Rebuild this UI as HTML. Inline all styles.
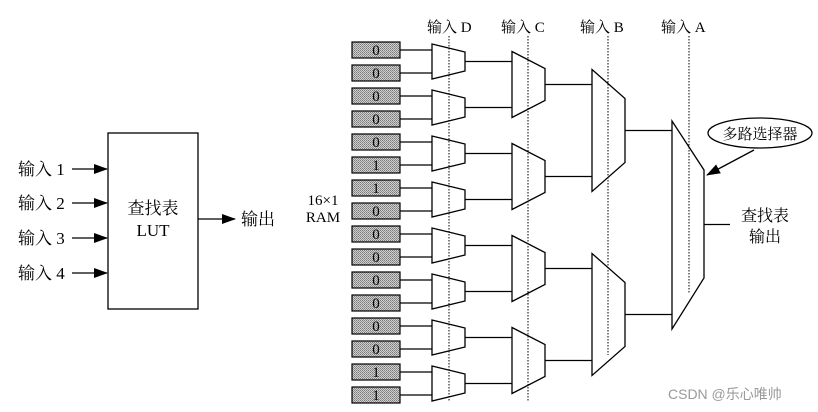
<!DOCTYPE html>
<html><head><meta charset="utf-8"><style>
html,body{margin:0;padding:0;background:#fff;}
svg{display:block;}
text{font-family:"Liberation Serif","Noto Serif CJK SC",serif;fill:#000;}
</style></head><body>
<svg width="818" height="412" viewBox="0 0 818 412" xmlns="http://www.w3.org/2000/svg">
<defs>
<pattern id="dots" width="2" height="2" patternUnits="userSpaceOnUse">
<rect width="2" height="2" fill="#d0d0d0"/><rect width="1" height="1" fill="#7a7a7a"/><rect x="1" y="1" width="1" height="1" fill="#909090"/>
</pattern>
<marker id="ah" markerWidth="14" markerHeight="10" refX="13" refY="5" orient="auto" markerUnits="userSpaceOnUse"><path d="M0,0 L14,5 L0,10 Z" fill="#000"/></marker>
</defs>
<g stroke="#000" stroke-width="1.3" fill="none">
<rect x="108" y="133" width="90" height="176" fill="#fff"/>
<line x1="72" y1="169" x2="107" y2="169" marker-end="url(#ah)"/>
<line x1="72" y1="203" x2="107" y2="203" marker-end="url(#ah)"/>
<line x1="72" y1="238" x2="107" y2="238" marker-end="url(#ah)"/>
<line x1="72" y1="273" x2="107" y2="273" marker-end="url(#ah)"/>
<line x1="198" y1="219" x2="235" y2="219" marker-end="url(#ah)"/>
</g>
<g font-size="17">
<text x="18" y="175">输入 1</text>
<text x="18" y="209">输入 2</text>
<text x="18" y="244">输入 3</text>
<text x="18" y="279">输入 4</text>
<text x="153" y="214" text-anchor="middle">查找表</text>
<text x="153" y="236" text-anchor="middle">LUT</text>
<text x="241" y="225">输出</text>
</g>
<g font-size="15">
<text x="323" y="205" text-anchor="middle">16×1</text>
<text x="323" y="222" text-anchor="middle">RAM</text>
</g>
<g stroke="#000" stroke-width="1" stroke-dasharray="1.5,1.5">
<line x1="449" y1="36" x2="449" y2="402"/>
<line x1="528" y1="36" x2="528" y2="402"/>
<line x1="608" y1="36" x2="608" y2="355"/>
<line x1="689" y1="36" x2="689" y2="293"/>
</g>
<g font-size="15">
<text x="427" y="32">输入 D</text>
<text x="501" y="32">输入 C</text>
<text x="580" y="32">输入 B</text>
<text x="661" y="32">输入 A</text>
</g>
<g stroke="#000" stroke-width="1.2" fill="url(#dots)">
<rect x="352" y="42" width="48" height="16"/><rect x="352" y="65" width="48" height="16"/>
<rect x="352" y="88" width="48" height="16"/><rect x="352" y="111" width="48" height="16"/>
<rect x="352" y="134" width="48" height="16"/><rect x="352" y="157" width="48" height="16"/>
<rect x="352" y="180" width="48" height="16"/><rect x="352" y="203" width="48" height="16"/>
<rect x="352" y="226" width="48" height="16"/><rect x="352" y="249" width="48" height="16"/>
<rect x="352" y="272" width="48" height="16"/><rect x="352" y="295" width="48" height="16"/>
<rect x="352" y="318" width="48" height="16"/><rect x="352" y="341" width="48" height="16"/>
<rect x="352" y="364" width="48" height="16"/><rect x="352" y="387" width="48" height="16"/>
</g>
<g font-size="15" text-anchor="middle">
<text x="376" y="55">0</text><text x="376" y="78">0</text><text x="376" y="101">0</text><text x="376" y="124">0</text>
<text x="376" y="147">0</text><text x="376" y="170">1</text><text x="376" y="193">1</text><text x="376" y="216">0</text>
<text x="376" y="239">0</text><text x="376" y="262">0</text><text x="376" y="285">0</text><text x="376" y="308">0</text>
<text x="376" y="331">0</text><text x="376" y="354">0</text><text x="376" y="377">1</text><text x="376" y="400">1</text>
</g>
<g stroke="#000" stroke-width="1.3" fill="none">
<path d="M400 50H432M400 73H432M400 96H432M400 119H432M400 142H432M400 165H432M400 188H432M400 211H432M400 234H432M400 257H432M400 280H432M400 303H432M400 326H432M400 349H432M400 372H432M400 395H432"/>
<path d="M465 61.5H512M465 107.5H512M465 153.5H512M465 199.5H512M465 245.5H512M465 291.5H512M465 337.5H512M465 383.5H512"/>
<path d="M545 84.5H592M545 176.5H592M545 268.5H592M545 360.5H592"/>
<path d="M625 130.5H672M625 314.5H672"/>
<path d="M704 224.5H730"/>
</g>
<g stroke="#000" stroke-width="1.3" fill="#fff">
<polygon points="432,44 465,52 465,71 432,79"/>
<polygon points="432,90 465,98 465,117 432,125"/>
<polygon points="432,136 465,144 465,163 432,171"/>
<polygon points="432,182 465,190 465,209 432,217"/>
<polygon points="432,228 465,236 465,255 432,263"/>
<polygon points="432,274 465,282 465,301 432,309"/>
<polygon points="432,320 465,328 465,347 432,355"/>
<polygon points="432,366 465,374 465,393 432,401"/>
<polygon points="512,51.5 545,68.5 545,100.5 512,117.5"/>
<polygon points="512,143.5 545,160.5 545,192.5 512,209.5"/>
<polygon points="512,235.5 545,252.5 545,284.5 512,301.5"/>
<polygon points="512,327.5 545,344.5 545,376.5 512,393.5"/>
<polygon points="592,69.5 625,98.5 625,162.5 592,191.5"/>
<polygon points="592,253.5 625,282.5 625,346.5 592,375.5"/>
<polygon points="672,121 704,170 704,278 672,329"/>
</g>
<g stroke="#000" stroke-width="1" stroke-dasharray="1.5,1.5">
<line x1="449" y1="36" x2="449" y2="402"/>
<line x1="528" y1="36" x2="528" y2="402"/>
<line x1="608" y1="36" x2="608" y2="355"/>
<line x1="689" y1="36" x2="689" y2="293"/>
</g>
<ellipse cx="760" cy="133" rx="52" ry="15" fill="#fff" stroke="#000" stroke-width="1.3"/>
<text x="760" y="139" font-size="15" text-anchor="middle">多路选择器</text>
<line x1="754" y1="150" x2="707" y2="175" stroke="#000" stroke-width="1.3" marker-end="url(#ah)"/>
<g font-size="16" text-anchor="middle">
<text x="765" y="221">查找表</text>
<text x="765" y="242">输出</text>
</g>
<text x="668" y="399" font-size="14" style="fill:#9a9a9a;font-family:'Liberation Sans','Noto Sans CJK SC',sans-serif">CSDN @乐心唯帅</text>
</svg>
</body></html>
